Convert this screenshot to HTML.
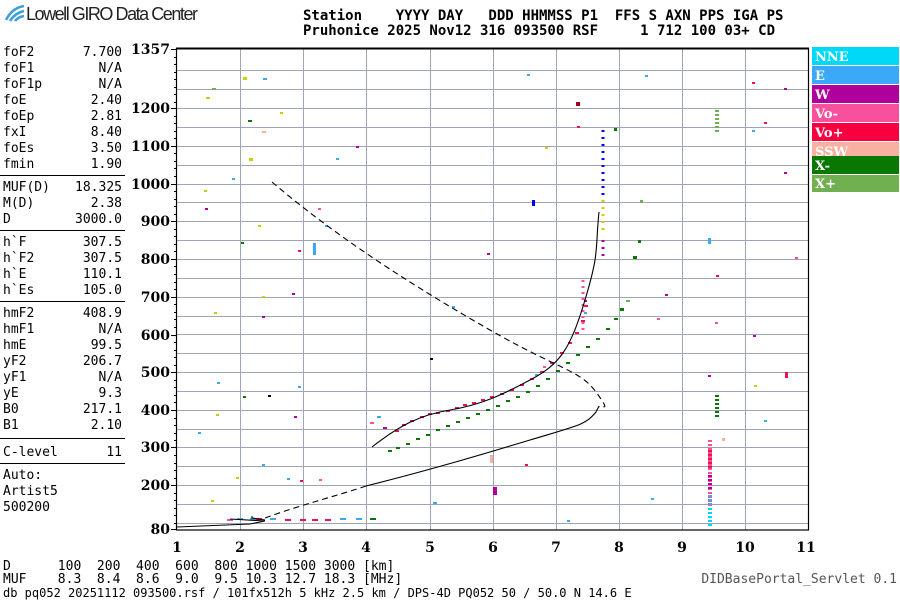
<!DOCTYPE html>
<html><head><meta charset="utf-8"><style>
body{margin:0;width:900px;height:600px;background:#fff;overflow:hidden;font-family:"DejaVu Sans Mono","Liberation Mono",monospace;}
svg{position:absolute;left:0;top:0}
</style></head><body>
<svg width="900" height="600" xmlns="http://www.w3.org/2000/svg" font-family="DejaVu Sans Mono, Liberation Mono, monospace">
<g fill="none" stroke="#3aa0d8" stroke-width="2.5"><path d="M6 20 Q12 8 24 6"/><path d="M10 21 Q15 13 24 11"/><path d="M15 21 Q18 17 24 16"/></g>
<text x="26" y="20" font-family="Liberation Sans, sans-serif" font-size="18" fill="#222" textLength="172">Lowell GIRO Data Center</text>
<text x="303" y="20" font-size="14" font-weight="bold" fill="#000" xml:space="preserve">Station    YYYY DAY   DDD HHMMSS P1  FFS S AXN PPS IGA PS</text>
<text x="303" y="35" font-size="14" font-weight="bold" fill="#000" xml:space="preserve">Pruhonice 2025 Nov12 316 093500 RSF     1 712 100 03+ CD</text>
<g font-size="13" fill="#000">
<text x="3" y="56">foF2</text><text x="122" y="56" text-anchor="end">7.700</text>
<text x="3" y="72">foF1</text><text x="122" y="72" text-anchor="end">N/A</text>
<text x="3" y="88">foF1p</text><text x="122" y="88" text-anchor="end">N/A</text>
<text x="3" y="104">foE</text><text x="122" y="104" text-anchor="end">2.40</text>
<text x="3" y="120">foEp</text><text x="122" y="120" text-anchor="end">2.81</text>
<text x="3" y="136">fxI</text><text x="122" y="136" text-anchor="end">8.40</text>
<text x="3" y="152">foEs</text><text x="122" y="152" text-anchor="end">3.50</text>
<text x="3" y="168">fmin</text><text x="122" y="168" text-anchor="end">1.90</text>
<text x="3" y="191">MUF(D)</text><text x="122" y="191" text-anchor="end">18.325</text>
<text x="3" y="207">M(D)</text><text x="122" y="207" text-anchor="end">2.38</text>
<text x="3" y="223">D</text><text x="122" y="223" text-anchor="end">3000.0</text>
<text x="3" y="246">h`F</text><text x="122" y="246" text-anchor="end">307.5</text>
<text x="3" y="262">h`F2</text><text x="122" y="262" text-anchor="end">307.5</text>
<text x="3" y="278">h`E</text><text x="122" y="278" text-anchor="end">110.1</text>
<text x="3" y="294">h`Es</text><text x="122" y="294" text-anchor="end">105.0</text>
<text x="3" y="317">hmF2</text><text x="122" y="317" text-anchor="end">408.9</text>
<text x="3" y="333">hmF1</text><text x="122" y="333" text-anchor="end">N/A</text>
<text x="3" y="349">hmE</text><text x="122" y="349" text-anchor="end">99.5</text>
<text x="3" y="365">yF2</text><text x="122" y="365" text-anchor="end">206.7</text>
<text x="3" y="381">yF1</text><text x="122" y="381" text-anchor="end">N/A</text>
<text x="3" y="397">yE</text><text x="122" y="397" text-anchor="end">9.3</text>
<text x="3" y="413">B0</text><text x="122" y="413" text-anchor="end">217.1</text>
<text x="3" y="429">B1</text><text x="122" y="429" text-anchor="end">2.10</text>
<text x="3" y="456">C-level</text><text x="122" y="456" text-anchor="end">11</text>
<text x="3" y="479">Auto:</text>
<text x="3" y="495">Artist5</text>
<text x="3" y="511">500200</text>
</g>
<g stroke="#000" stroke-width="1"><line x1="0" y1="175.5" x2="125" y2="175.5"/><line x1="0" y1="230.5" x2="125" y2="230.5"/><line x1="0" y1="301.5" x2="125" y2="301.5"/><line x1="0" y1="438.5" x2="125" y2="438.5"/><line x1="0" y1="463.5" x2="125" y2="463.5"/></g>
<g stroke="#a0a4b4" stroke-width="1">
<line x1="240.5" y1="48" x2="240.5" y2="530"/><line x1="303.5" y1="48" x2="303.5" y2="530"/><line x1="366.5" y1="48" x2="366.5" y2="530"/><line x1="430.5" y1="48" x2="430.5" y2="530"/><line x1="493.5" y1="48" x2="493.5" y2="530"/><line x1="556.5" y1="48" x2="556.5" y2="530"/><line x1="619.5" y1="48" x2="619.5" y2="530"/><line x1="682.5" y1="48" x2="682.5" y2="530"/><line x1="745.5" y1="48" x2="745.5" y2="530"/>
<line x1="177" y1="70.5" x2="808" y2="70.5"/><line x1="177" y1="89.5" x2="808" y2="89.5"/><line x1="177" y1="108.5" x2="808" y2="108.5"/><line x1="177" y1="127.5" x2="808" y2="127.5"/><line x1="177" y1="146.5" x2="808" y2="146.5"/><line x1="177" y1="165.5" x2="808" y2="165.5"/><line x1="177" y1="184.5" x2="808" y2="184.5"/><line x1="177" y1="202.5" x2="808" y2="202.5"/><line x1="177" y1="221.5" x2="808" y2="221.5"/><line x1="177" y1="240.5" x2="808" y2="240.5"/><line x1="177" y1="259.5" x2="808" y2="259.5"/><line x1="177" y1="278.5" x2="808" y2="278.5"/><line x1="177" y1="297.5" x2="808" y2="297.5"/><line x1="177" y1="316.5" x2="808" y2="316.5"/><line x1="177" y1="334.5" x2="808" y2="334.5"/><line x1="177" y1="353.5" x2="808" y2="353.5"/><line x1="177" y1="372.5" x2="808" y2="372.5"/><line x1="177" y1="391.5" x2="808" y2="391.5"/><line x1="177" y1="410.5" x2="808" y2="410.5"/><line x1="177" y1="429.5" x2="808" y2="429.5"/><line x1="177" y1="447.5" x2="808" y2="447.5"/><line x1="177" y1="466.5" x2="808" y2="466.5"/><line x1="177" y1="485.5" x2="808" y2="485.5"/><line x1="177" y1="504.5" x2="808" y2="504.5"/><line x1="177" y1="523.5" x2="808" y2="523.5"/>
</g>
<rect x="176.5" y="48.5" width="632" height="481.5" fill="none" stroke="#000" stroke-width="1.2"/>
<line x1="176" y1="48.5" x2="809" y2="48.5" stroke="#000" stroke-width="2"/>
<g stroke="#000"><path d="M171 49.5H177M171 108.5H177M171 146.5H177M171 184.5H177M171 221.5H177M171 259.5H177M171 297.5H177M171 335.5H177M171 372.5H177M171 410.5H177M171 447.5H177M171 485.5H177M171 529.5H177"/>
<path d="M174 57.5H177M174 64.5H177M174 72.5H177M174 79.5H177M174 87.5H177M174 94.5H177M174 102.5H177M174 116.5H177M174 123.5H177M174 131.5H177M174 138.5H177M174 153.5H177M174 161.5H177M174 168.5H177M174 176.5H177M174 191.5H177M174 199.5H177M174 206.5H177M174 214.5H177M174 229.5H177M174 236.5H177M174 244.5H177M174 251.5H177M174 266.5H177M174 274.5H177M174 282.5H177M174 289.5H177M174 304.5H177M174 312.5H177M174 319.5H177M174 327.5H177M174 342.5H177M174 350.5H177M174 357.5H177M174 365.5H177M174 380.5H177M174 387.5H177M174 395.5H177M174 402.5H177M174 418.5H177M174 425.5H177M174 433.5H177M174 440.5H177M174 455.5H177M174 463.5H177M174 470.5H177M174 478.5H177M174 493.5H177M174 500.5H177M174 508.5H177M174 515.5H177M174 523.5H177"/></g>
<g font-family="DejaVu Serif, Liberation Serif, serif" font-weight="bold" font-size="14" text-anchor="end" fill="#000">
<text x="170" y="54">1357</text><text x="170" y="113">1200</text><text x="170" y="151">1100</text><text x="170" y="189">1000</text><text x="170" y="226">900</text><text x="170" y="264">800</text><text x="170" y="302">700</text><text x="170" y="340">600</text><text x="170" y="377">500</text><text x="170" y="415">400</text><text x="170" y="452">300</text><text x="170" y="490">200</text><text x="170" y="534">80</text></g>
<g font-family="DejaVu Serif, Liberation Serif, serif" font-weight="bold" font-size="14" text-anchor="middle" fill="#000">
<text x="177" y="552">1</text><text x="240" y="552">2</text><text x="303" y="552">3</text><text x="366" y="552">4</text><text x="430" y="552">5</text><text x="493" y="552">6</text><text x="556" y="552">7</text><text x="619" y="552">8</text><text x="682" y="552">9</text><text x="745" y="552">10</text><text x="806" y="552">11</text></g>
<g font-size="13" fill="#000">
<text x="3" y="570" xml:space="preserve">D      100  200  400  600  800 1000 1500 3000 [km]</text>
<text x="3" y="583" xml:space="preserve">MUF    8.3  8.4  8.6  9.0  9.5 10.3 12.7 18.3 [MHz]</text>
<text x="3" y="597" font-size="12">db pq052 20251112 093500.rsf / 101fx512h 5 kHz 2.5 km / DPS-4D PQ052 50 / 50.0 N 14.6 E</text>
<text x="897" y="583" font-size="13" fill="#555" text-anchor="end">DIDBasePortal_Servlet 0.1</text>
</g>
<g font-family="DejaVu Serif, Liberation Serif, serif" font-weight="bold" font-size="13" fill="#fff">
<rect x="812" y="47" width="87" height="18" fill="#00d8f8"/><text x="815" y="61">NNE</text>
<rect x="812" y="66" width="87" height="18" fill="#3ca8f8"/><text x="815" y="80">E</text>
<rect x="812" y="85" width="87" height="18" fill="#b0009c"/><text x="815" y="99">W</text>
<rect x="812" y="104" width="87" height="18" fill="#f8509c"/><text x="815" y="118">Vo-</text>
<rect x="812" y="123" width="87" height="18" fill="#f80040"/><text x="815" y="137">Vo+</text>
<rect x="812" y="142" width="87" height="18" fill="#f8b0a0"/><text x="815" y="156">SSW</text>
<rect x="812" y="156" width="87" height="18" fill="#087800"/><text x="815" y="170">X-</text>
<rect x="812" y="175" width="87" height="17" fill="#70b050"/><text x="815" y="188">X+</text>
</g>
<g>
<g fill="#f01050">
<rect x="395" y="430" width="4" height="2"/><rect x="402" y="424" width="4" height="2"/><rect x="410" y="420" width="4" height="2"/><rect x="420" y="416" width="4" height="2"/><rect x="428" y="413" width="4" height="2"/><rect x="436" y="412" width="4" height="2"/><rect x="446" y="410" width="4" height="2"/><rect x="455" y="407" width="4" height="2"/><rect x="463" y="404" width="4" height="2"/><rect x="472" y="402" width="4" height="2"/><rect x="481" y="399" width="4" height="2"/><rect x="490" y="396" width="4" height="2"/><rect x="500" y="393" width="4" height="2"/><rect x="510" y="389" width="4" height="2"/><rect x="520" y="384" width="4" height="2"/><rect x="530" y="378" width="4" height="2"/><rect x="540" y="371" width="4" height="2"/><rect x="550" y="362" width="4" height="2"/><rect x="560" y="352" width="4" height="2"/><rect x="568" y="342" width="4" height="2"/><rect x="575" y="332" width="4" height="2"/><rect x="581" y="320" width="4" height="2"/><rect x="584" y="305" width="4" height="2"/><rect x="584" y="300" width="3" height="2" fill="#b0009c"/><rect x="584" y="312" width="3" height="2" fill="#3ca8f8"/>
<rect x="383" y="427" width="4" height="2" fill="#b0009c"/><rect x="370" y="422" width="4" height="2" fill="#f8509c"/><rect x="377" y="416" width="4" height="2" fill="#3ca8f8"/><rect x="543" y="366" width="3" height="2" fill="#f8509c"/><rect x="535" y="374" width="3" height="2" fill="#3ca8f8"/>
</g>
<g fill="#087800">
<rect x="388" y="450" width="4" height="2"/><rect x="396" y="447" width="4" height="2"/><rect x="406" y="443" width="4" height="2"/><rect x="416" y="438" width="4" height="2"/><rect x="426" y="434" width="4" height="2"/><rect x="436" y="429" width="4" height="2"/><rect x="446" y="425" width="4" height="2"/><rect x="456" y="421" width="4" height="2"/><rect x="466" y="417" width="4" height="2"/><rect x="476" y="413" width="4" height="2"/><rect x="486" y="409" width="4" height="2"/><rect x="496" y="405" width="4" height="2"/><rect x="506" y="400" width="4" height="2"/><rect x="516" y="396" width="4" height="2"/><rect x="526" y="391" width="4" height="2"/><rect x="536" y="385" width="4" height="2"/><rect x="546" y="378" width="4" height="2"/><rect x="556" y="370" width="4" height="2"/><rect x="566" y="362" width="4" height="2"/><rect x="576" y="354" width="4" height="2"/><rect x="586" y="346" width="4" height="2"/><rect x="596" y="338" width="4" height="2"/><rect x="606" y="328" width="4" height="2"/><rect x="614" y="318" width="4" height="2"/><rect x="620" y="308" width="4" height="3"/><rect x="626" y="300" width="4" height="2" fill="#70b050"/><rect x="633" y="256" width="4" height="3"/><rect x="638" y="240" width="3" height="3"/><rect x="640" y="200" width="3" height="3" fill="#70b050"/><rect x="614" y="128" width="3" height="3"/>
</g>
<g stroke-width="4" fill="none" stroke-dasharray="2,2">
<line x1="710" y1="440" x2="710" y2="528" stroke="#f8509c"/>
<line x1="710" y1="450" x2="710" y2="470" stroke="#f01050"/><line x1="710" y1="475" x2="710" y2="490" stroke="#b0009c"/><line x1="710" y1="495" x2="710" y2="507" stroke="#3ca8f8"/><line x1="710" y1="508" x2="710" y2="526" stroke="#00d8f8"/>
<line x1="717" y1="395" x2="717" y2="417" stroke="#087800"/><line x1="717" y1="110" x2="717" y2="132" stroke="#70b050"/>
<line x1="603" y1="130" x2="603" y2="200" stroke="#0000f0" stroke-width="3" stroke-dasharray="2,5"/><line x1="603" y1="200" x2="603" y2="230" stroke="#c8d000" stroke-width="3" stroke-dasharray="2,5"/><line x1="603" y1="240" x2="603" y2="260" stroke="#b0009c" stroke-width="3" stroke-dasharray="2,5"/><line x1="583" y1="280" x2="583" y2="330" stroke="#f8509c" stroke-width="3" stroke-dasharray="2,4"/>
</g>
<rect x="708" y="375" width="3" height="2" fill="#b0009c"/><rect x="708" y="238" width="3" height="6" fill="#3ca8f8"/>
<g>
<rect x="227" y="519" width="6" height="2" fill="#f8509c"/><rect x="237" y="518" width="6" height="2" fill="#3ca8f8"/><rect x="250" y="518" width="6" height="2" fill="#3ca8f8"/><rect x="270" y="518" width="6" height="2" fill="#3ca8f8"/><rect x="285" y="519" width="6" height="2" fill="#f01050"/><rect x="300" y="519" width="6" height="2" fill="#f01050"/><rect x="312" y="519" width="6" height="2" fill="#f01050"/><rect x="325" y="519" width="6" height="2" fill="#f01050"/><rect x="340" y="518" width="6" height="2" fill="#3ca8f8"/><rect x="356" y="518" width="6" height="2" fill="#3ca8f8"/><rect x="370" y="518" width="6" height="2" fill="#087800"/>
<rect x="256" y="518" width="6" height="2" fill="#f01050"/><rect x="493" y="487" width="4" height="8" fill="#b0009c"/><rect x="433" y="502" width="4" height="2" fill="#3ca8f8"/>
</g>
<g fill="#3ca8f8">
<rect x="206" y="97" width="4" height="2" fill="#c8d000"/><rect x="212" y="88" width="4" height="2" fill="#70b050"/><rect x="243" y="77" width="4" height="3" fill="#c8d000"/><rect x="263" y="78" width="4" height="2"/><rect x="248" y="120" width="4" height="2" fill="#087800"/><rect x="262" y="131" width="4" height="2" fill="#f8b0a0"/><rect x="249" y="158" width="4" height="3" fill="#c8d000"/><rect x="204" y="190" width="3" height="2" fill="#c8d000"/><rect x="205" y="208" width="3" height="2" fill="#b0009c"/><rect x="232" y="178" width="3" height="2"/><rect x="241" y="242" width="3" height="2" fill="#087800"/><rect x="258" y="225" width="3" height="2" fill="#c8d000"/><rect x="298" y="250" width="3" height="2" fill="#f01050"/><rect x="313" y="243" width="3" height="12"/><rect x="318" y="208" width="3" height="2" fill="#f8509c"/><rect x="325" y="225" width="3" height="2"/><rect x="356" y="146" width="3" height="2" fill="#b0009c"/><rect x="336" y="158" width="3" height="2" fill="#3ca8f8"/><rect x="280" y="112" width="3" height="2" fill="#c8d000"/><rect x="262" y="296" width="3" height="2" fill="#c8d000"/><rect x="292" y="293" width="3" height="2" fill="#b0009c"/><rect x="262" y="316" width="3" height="2" fill="#b0009c"/><rect x="214" y="312" width="3" height="2" fill="#c8d000"/><rect x="217" y="382" width="3" height="2"/><rect x="216" y="414" width="3" height="2" fill="#c8d000"/><rect x="198" y="432" width="3" height="2"/><rect x="243" y="396" width="3" height="2" fill="#087800"/><rect x="268" y="395" width="3" height="2" fill="#000"/><rect x="294" y="416" width="3" height="2" fill="#b0009c"/><rect x="298" y="386" width="3" height="2"/><rect x="262" y="464" width="3" height="2"/><rect x="287" y="478" width="3" height="2"/><rect x="300" y="480" width="3" height="2" fill="#f01050"/><rect x="319" y="479" width="3" height="2" fill="#f8509c"/><rect x="236" y="477" width="3" height="2" fill="#c8d000"/><rect x="211" y="500" width="3" height="2" fill="#c8d000"/><rect x="430" y="358" width="3" height="2" fill="#000"/><rect x="452" y="306" width="3" height="2"/><rect x="487" y="253" width="3" height="2" fill="#b0009c"/><rect x="532" y="200" width="3" height="6" fill="#0000f0"/><rect x="527" y="74" width="3" height="2"/><rect x="576" y="102" width="4" height="4" fill="#a00020"/><rect x="577" y="126" width="3" height="2" fill="#f01050"/><rect x="545" y="147" width="3" height="2" fill="#c8d000"/><rect x="645" y="75" width="3" height="2"/><rect x="657" y="318" width="3" height="2" fill="#f8509c"/><rect x="665" y="294" width="3" height="2" fill="#b0009c"/><rect x="715" y="322" width="3" height="2" fill="#f8509c"/><rect x="716" y="275" width="3" height="2" fill="#f01050"/><rect x="752" y="82" width="3" height="2" fill="#f01050"/><rect x="752" y="130" width="3" height="2"/><rect x="764" y="122" width="3" height="2" fill="#f01050"/><rect x="784" y="88" width="3" height="2" fill="#b0009c"/><rect x="784" y="172" width="3" height="2" fill="#b0009c"/><rect x="753" y="335" width="3" height="2" fill="#b0009c"/><rect x="754" y="385" width="3" height="2" fill="#c8d000"/><rect x="785" y="372" width="3" height="6" fill="#f01050"/><rect x="795" y="257" width="3" height="2" fill="#f8509c"/><rect x="764" y="420" width="3" height="2"/><rect x="651" y="498" width="3" height="2"/><rect x="722" y="438" width="3" height="3" fill="#f8b0a0"/><rect x="525" y="464" width="3" height="2" fill="#f01050"/><rect x="490" y="455" width="3" height="8" fill="#f8b0a0"/><rect x="567" y="520" width="3" height="2"/>
</g>
</g>
<g fill="none" stroke="#000" stroke-width="1.1">
<path d="M372 447 C400 425,420 415,450 410 S500 396,530 380 S570 350,585 300 S595 250,599 212"/>
<path d="M177 527 L250 524 L265 521 M265 521 L230 519"/>
<path d="M366 486 C430 470,480 455,530 440 S585 425,596 412 L599 406"/>
<path d="M265 520 L252 518 L252 516"/>
<path d="M265 518 C300 505,340 495,366 486" stroke-dasharray="6,4"/>
<path d="M272 182 C340 240,420 290,490 330 S580 370,596 392 S602 404,599 407" stroke-dasharray="6,4"/>
</g>
</svg>
</body></html>
